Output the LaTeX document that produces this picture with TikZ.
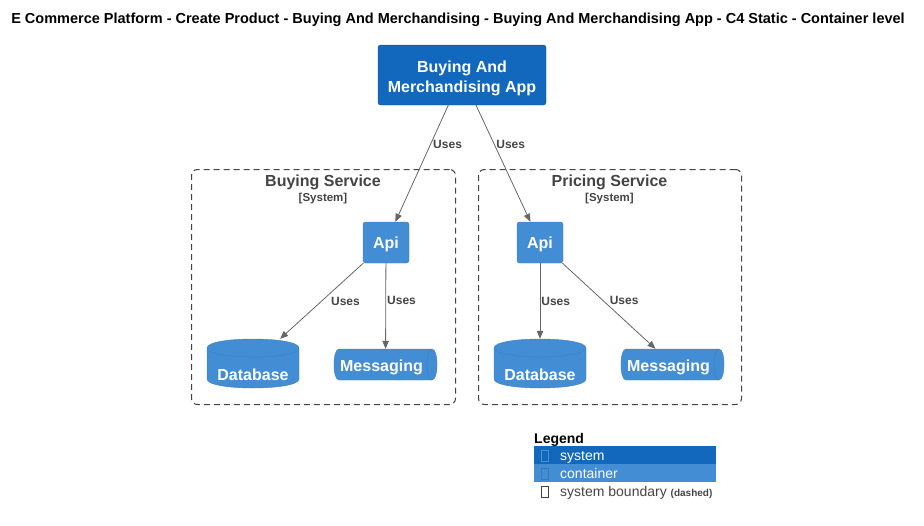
\documentclass[tikz,border=0pt]{standalone}
\usepackage{fontspec}
\setmainfont{Liberation Sans}
\usetikzlibrary{arrows.meta, positioning}
\definecolor{systemblue}{HTML}{1168BD}
\definecolor{containerblue}{HTML}{438DD5}
\definecolor{boundarygray}{HTML}{444444}
\definecolor{arrowgray}{HTML}{666666}
\tikzset{
  system/.style = {fill=systemblue, draw=systemblue!85!black, rounded corners=2.5pt},
  systemtext/.style = {text=white, font=\bfseries\fontsize{16}{20}\selectfont, align=center},
  container/.style = {fill=containerblue, draw=containerblue!90!black, rounded corners=2.5pt, text=white,
    font=\bfseries\fontsize{16}{19}\selectfont, text height=11.5pt, text depth=0pt},
  storebody/.style = {fill=containerblue, draw=containerblue!90!black},
  storetext/.style = {text=white, font=\bfseries\fontsize{16}{19}\selectfont, inner sep=0pt},
  boundary/.style = {draw=boundarygray, line width=1pt, dash pattern=on 6pt off 4pt, rounded corners=6pt},
  boundarytitle/.style = {text=boundarygray, font=\bfseries\fontsize{16}{19}\selectfont, inner sep=0pt},
  boundarytag/.style = {text=boundarygray, font=\bfseries\fontsize{11.5}{14}\selectfont, inner sep=0pt},
  uses/.style = {draw=arrowgray, line width=0.8pt, -{Triangle[length=8pt, width=6.5pt]}},
  useslabel/.style = {text=boundarygray, font=\bfseries\fontsize{12}{14}\selectfont, inner sep=1pt, right},
  legendtext/.style = {font=\fontsize{14}{16}\selectfont, anchor=base west, inner sep=0pt},
  tofu/.style = {line width=0.8pt}
}

\begin{document}
\begin{tikzpicture}[x=1pt, y=-1pt]

  \useasboundingbox (0,0) rectangle (924,525);

  %% Title
  \node[font=\bfseries\fontsize{14.5}{17}\selectfont, inner sep=0pt] (title) at (458,20)
    {E Commerce Platform - Create Product - Buying And Merchandising - Buying And Merchandising App - C4 Static - Container level};

  %% App
  \node[system, minimum width=168pt, minimum height=60pt,
    label={[systemtext, yshift=-3pt]center:Buying And\\Merchandising App}] (app) at (462,75) {};

  %% Boundaries
  \node[boundary, minimum width=264pt, minimum height=235pt] (buying) at (323.5,287) {};
  \node[boundarytitle] (buyingtitle) at (323,182) {Buying Service};
  \node[boundarytag] (buyingtag) at (323,199) {[System]};

  \node[boundary, minimum width=263pt, minimum height=235pt] (pricing) at (610,287) {};
  \node[boundarytitle] (pricingtitle) at (609.5,182) {Pricing Service};
  \node[boundarytag] (pricingtag) at (609.5,199) {[System]};

  %% Containers
  \node[container, minimum width=46pt, minimum height=41pt] (buyingapi) at (386,242.5) {Api};
  \node[container, minimum width=46pt, minimum height=41pt] (pricingapi) at (540,242.5) {Api};

  % Databases
  \draw[storebody] (207,348) -- (207,379) .. controls (207,391) and (299,391) .. (299,379)
    -- (299,348) .. controls (299,336) and (207,336) .. cycle;
  \draw[containerblue!90!black] (207,348) .. controls (207,360) and (299,360) .. (299,348);
  \node[minimum width=92pt, minimum height=49pt, inner sep=0pt,
    label={[storetext, yshift=-11.5pt]center:Database}] (buyingdb) at (253,363.5) {};

  \draw[storebody] (494,348) -- (494,379) .. controls (494,391) and (586,391) .. (586,379)
    -- (586,348) .. controls (586,336) and (494,336) .. cycle;
  \draw[containerblue!90!black] (494,348) .. controls (494,360) and (586,360) .. (586,348);
  \node[minimum width=92pt, minimum height=49pt, inner sep=0pt,
    label={[storetext, yshift=-11.5pt]center:Database}] (pricingdb) at (540,363.5) {};

  % Queues
  \draw[storebody] (339,349) -- (432,349) .. controls (438.7,349) and (438.7,380) .. (432,380)
    -- (339,380) .. controls (332.3,380) and (332.3,349) .. cycle;
  \draw[containerblue!90!black] (432,349) .. controls (425.3,349) and (425.3,380) .. (432,380);
  \node[minimum width=103pt, minimum height=31pt, inner sep=0pt,
    label={[storetext, xshift=-4pt, yshift=-3pt]center:Messaging}] (buyingmsg) at (385.5,364.5) {};

  \draw[storebody] (626,349) -- (719,349) .. controls (725.7,349) and (725.7,380) .. (719,380)
    -- (626,380) .. controls (619.3,380) and (619.3,349) .. cycle;
  \draw[containerblue!90!black] (719,349) .. controls (712.3,349) and (712.3,380) .. (719,380);
  \node[minimum width=103pt, minimum height=31pt, inner sep=0pt,
    label={[storetext, xshift=-4pt, yshift=-3pt]center:Messaging}] (pricingmsg) at (672.5,364.5) {};

  %% Relations
  \draw[uses] (app) -- node[useslabel, pos=0.33, xshift=1pt, yshift=-1pt] {Uses} (buyingapi);
  \draw[uses] (app) -- node[useslabel, pos=0.33, xshift=1pt, yshift=-1pt] {Uses} (pricingapi);
  \draw[uses] (buyingapi) -- node[useslabel, pos=0.5, xshift=8pt] {Uses} (buyingdb);
  \draw[uses] (buyingapi) -- node[useslabel, pos=0.44] {Uses} (buyingmsg);
  \draw[uses] (pricingapi) -- node[useslabel, pos=0.5] {Uses} (pricingdb);
  \draw[uses] (pricingapi) -- node[useslabel, pos=0.44, xshift=5pt] {Uses} (pricingmsg);

  %% Legend
  \node[font=\bfseries\fontsize{14}{16}\selectfont, anchor=base west, inner sep=0pt] (legend) at (534,443) {Legend};
  \fill[systemblue] (534,446) rectangle (716,464);
  \fill[containerblue] (534,464) rectangle (716,482);
  \draw[tofu, systemblue!75!white] (541.5,450.5) rectangle (548,461);
  \draw[tofu, containerblue!85!black] (541.5,468.5) rectangle (548,479);
  \draw[tofu, boundarygray] (541.5,486.5) rectangle (548,497);
  \node[legendtext, text=white] (legendsystem) at (560,460) {system};
  \node[legendtext, text=white] (legendcontainer) at (560,478) {container};
  \node[legendtext, text=boundarygray] (legendboundary) at (560,496)
    {system boundary {\bfseries\fontsize{10}{11}\selectfont(dashed)}};

\end{tikzpicture}
\end{document}
